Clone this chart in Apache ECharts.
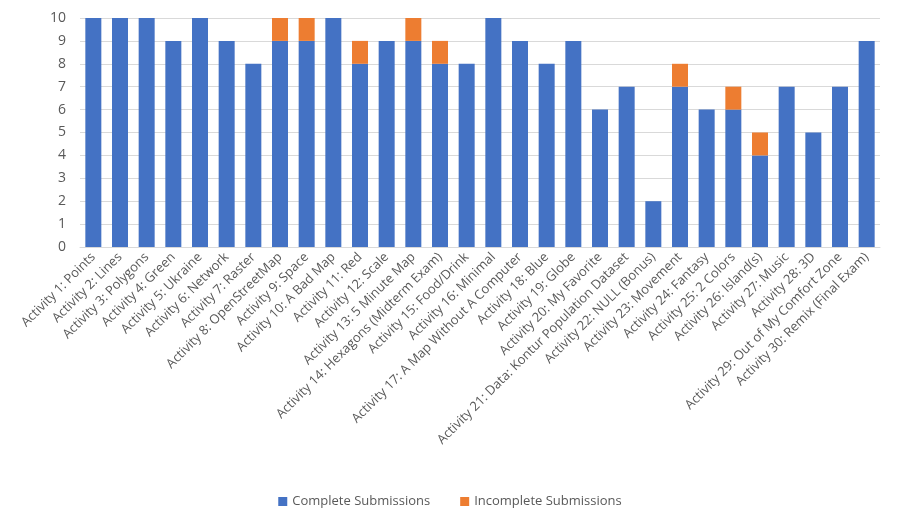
<!DOCTYPE html>
<html><head><meta charset="utf-8">
<script src="https://cdn.jsdelivr.net/npm/echarts@6/dist/echarts.min.js"></script>
<style>html,body{margin:0;padding:0;background:#fff}#c{width:900px;height:527px}</style>
</head><body><div id="c"></div>
<script>
const categories = ["Activity 1: Points","Activity 2: Lines","Activity 3: Polygons","Activity 4: Green","Activity 5: Ukraine","Activity 6: Network","Activity 7: Raster","Activity 8: OpenStreetMap","Activity 9: Space","Activity 10: A Bad Map","Activity 11: Red","Activity 12: Scale","Activity 13: 5 Minute Map","Activity 14: Hexagons (Midterm Exam)","Activity 15: Food/Drink","Activity 16: Minimal","Activity 17: A Map Without A Computer","Activity 18: Blue","Activity 19: Globe","Activity 20: My Favorite","Activity 21: Data: Kontur Population Dataset","Activity 22: NULL (Bonus)","Activity 23: Movement","Activity 24: Fantasy","Activity 25: 2 Colors","Activity 26: Island(s)","Activity 27: Music","Activity 28: 3D","Activity 29: Out of My Comfort Zone","Activity 30: Remix (Final Exam)"];
const complete = [10,10,10,9,10,9,8,9,9,10,8,9,9,8,8,10,9,8,9,6,7,2,7,6,6,4,7,5,7,9];
const incomplete = [0,0,0,0,0,0,0,1,1,0,1,0,1,1,0,0,0,0,0,0,0,0,1,0,1,1,0,0,0,0];
const chart = echarts.init(document.getElementById('c'));
const font = '"Open Sans", sans-serif';
chart.setOption({
  animation:false,
  grid:{left:80,right:20,top:18,bottom:280},
  legend:{bottom:14,left:'center',itemWidth:9,itemHeight:9,itemGap:30,icon:'rect',
    textStyle:{color:'#595959',fontSize:13,fontFamily:font}},
  xAxis:{type:'category',data:categories,
    axisLine:{lineStyle:{color:'#d9d9d9'}},axisTick:{show:false},
    axisLabel:{rotate:45,interval:0,color:'#595959',fontSize:13,fontFamily:font,margin:8}},
  yAxis:{type:'value',min:0,max:10,interval:1,
    axisLabel:{color:'#595959',fontSize:14,fontFamily:font,margin:14},
    splitLine:{lineStyle:{color:'#d9d9d9'}},axisLine:{show:false},axisTick:{show:false}},
  series:[
    {name:'Complete Submissions',type:'bar',stack:'a',data:complete,barWidth:'60%',itemStyle:{color:'#4472C4'}},
    {name:'Incomplete Submissions',type:'bar',stack:'a',data:incomplete,itemStyle:{color:'#ED7D31'}}
  ]
});
</script></body></html>
